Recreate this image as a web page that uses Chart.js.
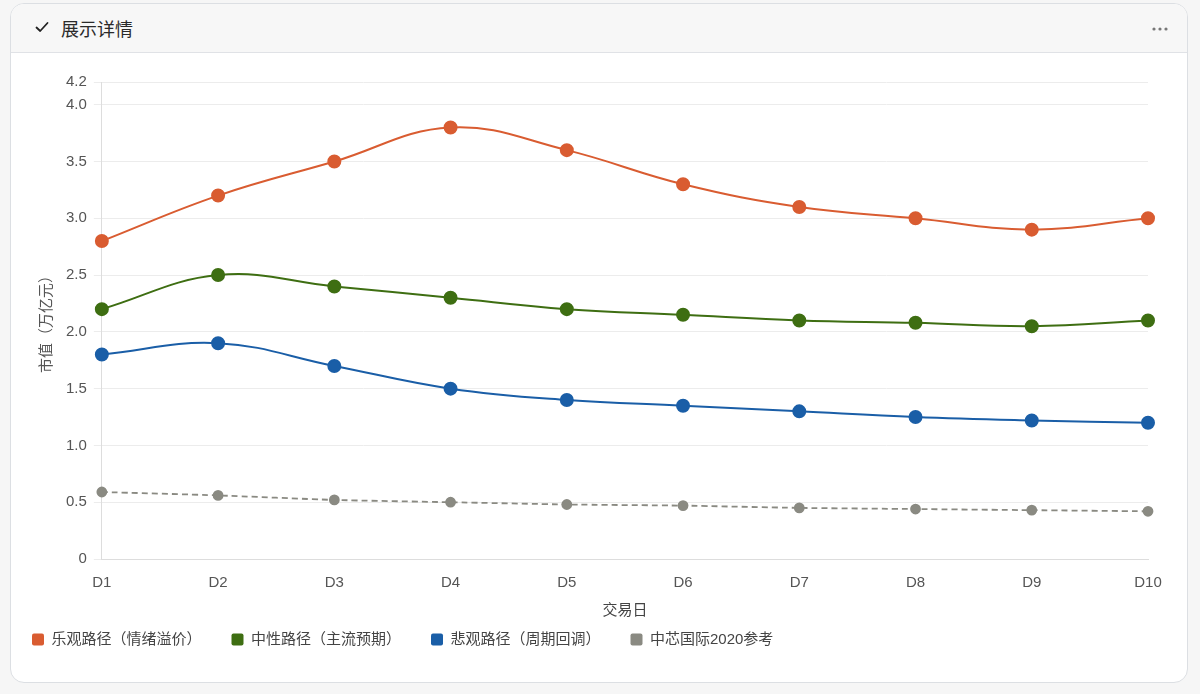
<!DOCTYPE html>
<html>
<head>
<meta charset="utf-8">
<script src="https://cdn.jsdelivr.net/npm/chart.js@4.4.1/dist/chart.umd.min.js"></script>
<style>
  html, body { margin: 0; padding: 0; background: #f6f6f6; width: 1200px; height: 694px; overflow: hidden;
    font-family: "Liberation Sans", "Noto Sans CJK SC", sans-serif; }
  .card { position: absolute; left: 10px; top: 3px; width: 1176px; height: 678px; background: #fff;
    border: 1px solid #dcdfe3; border-radius: 14px; overflow: hidden; }
  .header { position: absolute; left: 0; top: 0; right: 0; height: 48px; background: #f7f7f7;
    border-bottom: 1px solid #e0e2e6; z-index: 2; }
  .title { position: absolute; left: 50px; top: 12px; font-size: 18px; color: #2a2a2a;
    font-family: "Noto Sans CJK SC", sans-serif; line-height: 24px; }
  .check { position: absolute; left: 24px; top: 17px; }
  .dots { position: absolute; }
  .wrap { position: absolute; left: -9px; top: 57px; width: 1179px; height: 596px; }
</style>
</head>
<body>
<div class="card">
  <div class="header">
    <svg class="check" width="14" height="12" viewBox="0 0 14 12"><path d="M1.5 6.5 L5.2 10 L12.5 2" fill="none" stroke="#222" stroke-width="1.8" stroke-linecap="round" stroke-linejoin="round"/></svg>
    <div class="title">展示详情</div>
    <svg class="dots" width="18" height="6" viewBox="0 0 18 6" style="top:22px;right:18px"><circle cx="3" cy="3" r="1.6" fill="#777"/><circle cx="9" cy="3" r="1.6" fill="#777"/><circle cx="15" cy="3" r="1.6" fill="#777"/></svg>
  </div>
  <div class="wrap"><canvas id="c"></canvas></div>
</div>
<script>
const categories = ["D1","D2","D3","D4","D5","D6","D7","D8","D9","D10"];
const optimistic = [2.8, 3.2, 3.5, 3.8, 3.6, 3.3, 3.1, 3.0, 2.9, 3.0];
const neutral    = [2.2, 2.5, 2.4, 2.3, 2.2, 2.15, 2.1, 2.08, 2.05, 2.1];
const pessimistic= [1.8, 1.9, 1.7, 1.5, 1.4, 1.35, 1.3, 1.25, 1.22, 1.2];
const smic2020   = [0.59, 0.56, 0.52, 0.5, 0.48, 0.47, 0.45, 0.44, 0.43, 0.42];
const seriesNames = ["乐观路径（情绪溢价）", "中性路径（主流预期）", "悲观路径（周期回调）", "中芯国际2020参考"];
const yTitle = "市值（万亿元）";
const xTitle = "交易日";

const FONT = '"Liberation Sans", "Noto Sans CJK SC", sans-serif';
Chart.defaults.font.family = FONT;
Chart.defaults.font.size = 15;
Chart.defaults.color = '#555';

function ds(label, data, color, extra) {
  return Object.assign({
    label, data, borderColor: color, backgroundColor: color,
    pointBackgroundColor: color, pointBorderColor: color,
    borderWidth: 2, pointRadius: 6, pointHoverRadius: 7, tension: 0.4, fill: false
  }, extra || {});
}

new Chart(document.getElementById('c'), {
  type: 'line',
  data: {
    labels: categories,
    datasets: [
      ds(seriesNames[0], optimistic, '#d95c31'),
      ds(seriesNames[1], neutral, '#3e6e12'),
      ds(seriesNames[2], pessimistic, '#1a5ea7'),
      ds(seriesNames[3], smic2020, '#8a8a82', { borderDash: [6, 4], pointRadius: 4.5, borderWidth: 1.8, tension: 0.2 })
    ]
  },
  options: {
    responsive: true,
    maintainAspectRatio: false,
    animation: false,
    layout: { padding: { left: 0, right: 33, top: 21, bottom: 0 } },
    plugins: {
      legend: {
        position: 'bottom', align: 'start',
        labels: {
          boxWidth: 12, boxHeight: 12, useBorderRadius: true, borderRadius: 2,
          color: '#444', font: { size: 15, family: FONT }, padding: 30,
          generateLabels(chart) {
            return chart.data.datasets.map((d, i) => ({
              text: d.label, fillStyle: d.borderColor, strokeStyle: d.borderColor,
              lineWidth: 0, hidden: false, datasetIndex: i, borderRadius: 2, fontColor: '#444'
            }));
          }
        }
      },
      tooltip: { enabled: false }
    },
    scales: {
      x: {
        grid: { display: false },
        border: { color: '#ddd' },
        ticks: { color: '#555', padding: 7 },
        title: { display: true, text: xTitle, color: '#444', font: { size: 15 }, padding: { top: 3, bottom: -18 } }
      },
      y: {
        min: 0, max: 4.2,
        ticks: { stepSize: 0.5, color: '#555', padding: 7 },
        grid: { color: '#ececec' },
        border: { color: '#ddd' },
        title: { display: true, text: yTitle, color: '#555', font: { size: 15 }, padding: { top: 36, bottom: 3 } }
      }
    }
  }
});
</script>
</body>
</html>
